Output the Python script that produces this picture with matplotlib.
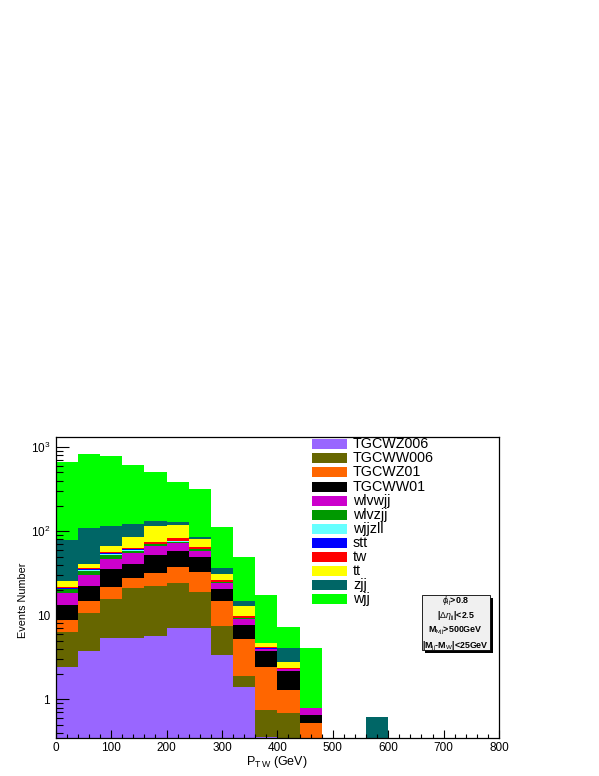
import numpy as np
import matplotlib.pyplot as plt
from matplotlib.patches import Rectangle
from matplotlib.ticker import FixedLocator, FuncFormatter, MultipleLocator, LogLocator, NullFormatter

plt.rcParams['font.family'] = ['Liberation Sans', 'DejaVu Sans']
plt.rcParams['mathtext.fontset'] = 'custom'
plt.rcParams['mathtext.rm'] = 'Liberation Sans'
plt.rcParams['mathtext.it'] = 'Liberation Sans:italic'
plt.rcParams['mathtext.bf'] = 'Liberation Sans:bold'

# bin edges: 20 bins of 40 GeV from 0 to 800
bin_lo = np.arange(0, 800, 40)

# per-sample events per bin (stack order, bottom first)
TGCWZ006 = [2.44, 3.71, 5.41, 5.37, 5.67, 7.0, 7.12, 3.37, 1.41, 0.36, 0, 0, 0, 0, 0, 0, 0, 0, 0, 0]
TGCWW006 = [3.84, 6.89, 10.2, 15.5, 16.9, 17.4, 12.0, 4.09, 0.50, 0.39, 0.69, 0, 0, 0, 0, 0, 0, 0, 0, 0]
TGCWZ01 = [2.51, 4.2, 5.8, 6.7, 9.0, 12.9, 13.4, 7.44, 3.31, 1.65, 0.62, 0.53, 0, 0, 0, 0, 0, 0, 0, 0]
TGCWW01 = [4.48, 7.5, 13.9, 12.9, 20.6, 21.5, 17.4, 5.9, 2.45, 1.39, 0.88, 0.12, 0, 0, 0, 0, 0, 0, 0, 0]
wlvwjj = [5.0, 7.9, 11.5, 14.2, 14.6, 13.2, 8.9, 3.2, 1.36, 0.18, 0.12, 0.13, 0, 0, 0, 0, 0, 0, 0, 0]
wlvzjj = [2.13, 3.8, 5.4, 4.1, 2.9, 3.3, 2.7, 0.9, 0.17, 0.03, 0, 0, 0, 0, 0, 0, 0, 0, 0, 0]
wjjzll = [0.3, 0.6, 1.3, 0.9, 0.8, 0.7, 0.3, 0.1, 0.15, 0.02, 0, 0, 0, 0, 0, 0, 0, 0, 0, 0]
stt = [0.4, 0.9, 1.3, 1.8, 0.7, 1.0, 0.2, 0.1, 0.05, 0.03, 0, 0, 0, 0, 0, 0, 0, 0, 0, 0]
tw = [0.8, 1.4, 2.4, 2.3, 3.4, 5.5, 2.5, 1.2, 0.5, 0.11, 0.03, 0, 0, 0, 0, 0, 0, 0, 0, 0]
tt = [3.7, 3.6, 8.7, 21.7, 42.0, 35.5, 15.8, 5.0, 3.1, 0.48, 0.46, 0, 0, 0, 0, 0, 0, 0, 0, 0]
zjj = [53.2, 69.5, 49.7, 35.0, 16.4, 12.0, 4.5, 5.3, 1.8, 0.03, 1.25, 0, 0, 0, 0.62, 0, 0, 0, 0, 0]
wjj = [584, 722, 672, 494, 379, 259, 231, 77, 35.1, 12.7, 3.15, 3.27, 0, 0, 0, 0, 0, 0, 0, 0]

names = ['TGCWZ006', 'TGCWW006', 'TGCWZ01', 'TGCWW01', 'wlvwjj', 'wlvzjj',
         'wjjzll', 'stt', 'tw', 'tt', 'zjj', 'wjj']
samples = [TGCWZ006, TGCWW006, TGCWZ01, TGCWW01, wlvwjj, wlvzjj,
           wjjzll, stt, tw, tt, zjj, wjj]
colors = ['#9966ff', '#666600', '#ff6600', '#000000', '#cc00cc', '#009900',
          '#66ffff', '#0000ff', '#ff0000', '#ffff00', '#006666', '#00ff00']

W, H = 599, 776
fig = plt.figure(figsize=(W / 100, H / 100), dpi=100)
ax = fig.add_axes([55.7 / W, 38.3 / H, (499 - 55.7) / W, (737.7 - 437) / H])

bottom = np.zeros(len(bin_lo))
for vals, c in zip(samples, colors):
    vals = np.array(vals, dtype=float)
    ax.bar(bin_lo, vals, width=40, bottom=bottom, align='edge', color=c, linewidth=0)
    bottom = bottom + vals

ax.set_yscale('log')
ax.set_xlim(0, 800)
ax.set_ylim(0.35, 1320)

# ROOT-like axes
ax.xaxis.set_major_locator(MultipleLocator(100))
ax.xaxis.set_minor_locator(MultipleLocator(20))
ax.yaxis.set_major_locator(FixedLocator([1, 10, 100, 1000]))
ax.yaxis.set_minor_locator(LogLocator(base=10, subs=np.arange(2, 10)))
ax.yaxis.set_minor_formatter(NullFormatter())

def ylab(v, pos):
    if v < 50:
        return f'{v:g}'
    return r'$10^{%d}$' % round(np.log10(v))

ax.yaxis.set_major_formatter(FuncFormatter(ylab))
ax.tick_params(axis='both', which='both', direction='in', top=False, right=False,
               labelsize=8.5, width=0.8)
ax.tick_params(axis='x', which='major', length=6, pad=3)
ax.tick_params(axis='x', which='minor', length=3)
ax.tick_params(axis='y', which='major', length=9.5, pad=4)
ax.tick_params(axis='y', which='minor', length=5)
for s in ax.spines.values():
    s.set_linewidth(0.9)

fig.text(277 / W, 1 - 762 / H, r'P$_{\mathrm{T\,W}}$ (GeV)', ha='center', va='center', fontsize=9)
fig.text(23 / W, 1 - 600 / H, 'Events Number', rotation=90, ha='center', va='center', fontsize=7.8)

# legend
for i, (n, c) in enumerate(zip(names, colors)):
    yc = 444.3 + i * 14.07
    fig.add_artist(Rectangle((312.3 / W, 1 - (yc + 5) / H), 34.4 / W, 10 / H,
                             transform=fig.transFigure, facecolor=c, edgecolor='none'))
    fig.text(353 / W, 1 - yc / H, n, ha='left', va='center', fontsize=10.3)

# cut box with shadow
bx0, bx1, by0, by1 = 421.7, 490, 595, 650
fig.add_artist(Rectangle(((bx0 + 3) / W, 1 - (by1 + 3) / H), (bx1 - bx0) / W, (by1 - by0) / H,
                         transform=fig.transFigure, facecolor='black', edgecolor='none'))
fig.add_artist(Rectangle((bx0 / W, 1 - by1 / H), (bx1 - bx0) / W, (by1 - by0) / H,
                         transform=fig.transFigure, facecolor='#f0f0f0', edgecolor='black',
                         linewidth=0.6))
cuts = [r'$\phi_{\mathrm{lj}}$>0.8', r'|$\Delta\eta_{\mathrm{jj}}$|<2.5',
        r'M$_{\mathrm{l\nu jj}}$>500GeV', r'|M$_{\mathrm{jj}}$-M$_{\mathrm{W}}$|<25GeV']
for i, t in enumerate(cuts):
    fig.text(455.8 / W, 1 - (601 + i * 15.2) / H, t, ha='center', va='center',
             fontsize=6.4, fontweight='bold')

fig.savefig('out.png', dpi=100)
